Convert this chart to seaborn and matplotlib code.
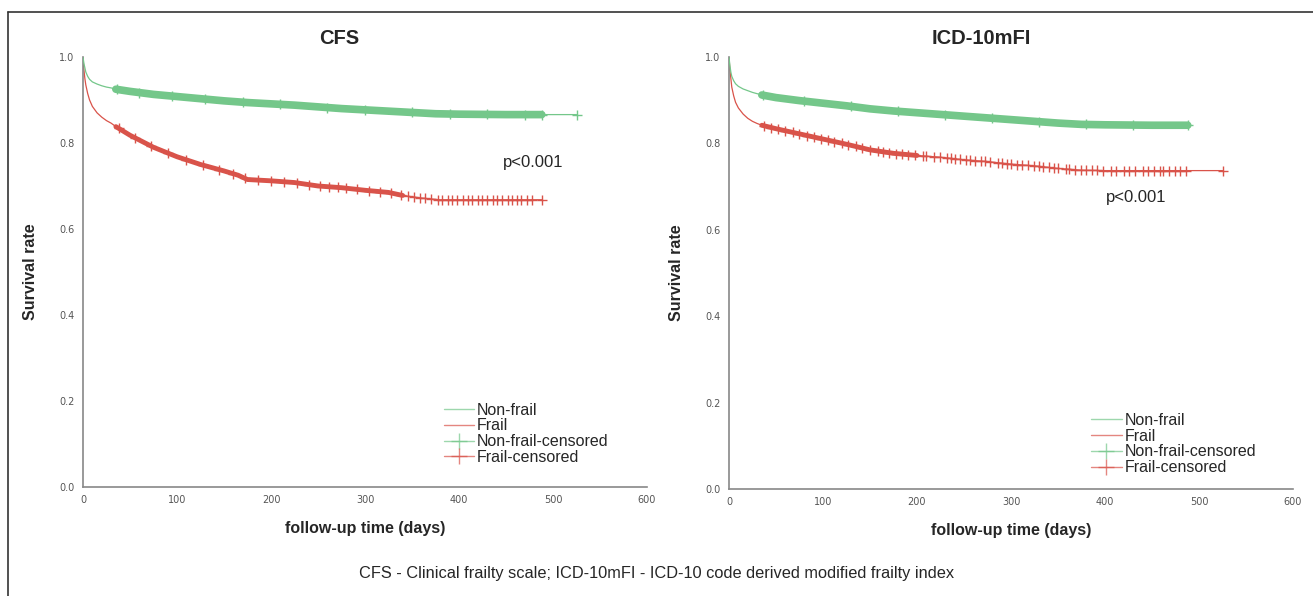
import numpy as np
import pandas as pd
import seaborn as sns
import matplotlib.pyplot as plt
from matplotlib.lines import Line2D

# ---- data ----
cfs_nonfrail_t = [0, 1, 2, 3, 5, 7, 10, 15, 20, 25, 30, 35, 50, 75, 100, 125, 150, 175, 200,
                  225, 250, 275, 300, 325, 350, 375, 400, 450, 488, 525]
cfs_nonfrail_s = [1.0, 0.985, 0.975, 0.965, 0.955, 0.948, 0.942, 0.937, 0.933, 0.930, 0.928,
                  0.925, 0.920, 0.913, 0.908, 0.903, 0.898, 0.894, 0.891, 0.888, 0.884, 0.880,
                  0.877, 0.874, 0.871, 0.868, 0.867, 0.866, 0.866, 0.866]
cfs_frail_t = [0, 1, 2, 3, 5, 7, 10, 15, 20, 25, 30, 35, 50, 75, 100, 125, 150, 165, 175, 200,
               225, 250, 275, 300, 325, 340, 360, 380, 400, 450, 488]
cfs_frail_s = [1.0, 0.97, 0.95, 0.935, 0.915, 0.90, 0.885, 0.87, 0.86, 0.852, 0.846, 0.838,
               0.818, 0.790, 0.768, 0.750, 0.735, 0.725, 0.715, 0.712, 0.708, 0.700, 0.696,
               0.690, 0.685, 0.678, 0.672, 0.668, 0.668, 0.668, 0.668]
icd_nonfrail_t = [0, 1, 2, 3, 5, 7, 10, 15, 20, 25, 30, 35, 50, 75, 100, 125, 150, 175, 200,
                  225, 250, 275, 300, 325, 350, 375, 400, 450, 488]
icd_nonfrail_s = [1.0, 0.98, 0.965, 0.955, 0.945, 0.938, 0.932, 0.926, 0.922, 0.918, 0.915,
                  0.912, 0.906, 0.899, 0.893, 0.887, 0.880, 0.875, 0.871, 0.867, 0.863, 0.859,
                  0.855, 0.851, 0.847, 0.844, 0.843, 0.842, 0.842]
icd_frail_t = [0, 1, 2, 3, 5, 7, 10, 15, 20, 25, 30, 35, 50, 75, 100, 125, 150, 175, 200, 225,
               250, 275, 300, 325, 350, 375, 400, 450, 488, 525]
icd_frail_s = [1.0, 0.97, 0.95, 0.93, 0.91, 0.895, 0.882, 0.868, 0.858, 0.851, 0.846, 0.842,
               0.834, 0.822, 0.810, 0.798, 0.785, 0.777, 0.772, 0.768, 0.762, 0.758, 0.752,
               0.748, 0.742, 0.738, 0.737, 0.737, 0.737, 0.737]

# censored observation times (dense stretches drawn as a band)
cfs_nonfrail_band = [35, 488]
cfs_frail_band = [35, 340]
icd_nonfrail_band = [35, 488]
icd_frail_band = [35, 200]
cfs_nonfrail_cens = [36, 60, 95, 130, 170, 210, 260, 300, 350, 390, 430, 470, 488, 525]
cfs_frail_cens = [38, 55, 72, 90, 110, 128, 145, 160, 172, 186, 200, 214, 228, 240, 252, 262,
                  271, 280, 292, 304, 316, 328, 338, 346, 352, 358, 364, 370, 378, 382, 388,
                  392, 398, 404, 410, 414, 420, 424, 430, 436, 440, 446, 452, 456, 462, 466,
                  472, 478, 488]
icd_nonfrail_cens = [36, 80, 130, 180, 230, 280, 330, 380, 430, 488]
icd_frail_cens = [37, 45, 52, 60, 68, 75, 83, 90, 98, 105, 112, 120, 127, 135, 142, 150, 158,
                  164, 170, 178, 184, 190, 198, 206, 210, 218, 224, 232, 236, 240, 246, 252,
                  256, 262, 268, 272, 278, 286, 290, 296, 300, 306, 312, 318, 324, 330, 334,
                  340, 346, 350, 358, 362, 368, 374, 380, 386, 392, 398, 406, 412, 420, 426,
                  432, 440, 446, 452, 458, 462, 468, 474, 480, 486, 525]

panels = [
    ("CFS", (cfs_nonfrail_t, cfs_nonfrail_s, cfs_nonfrail_band, cfs_nonfrail_cens),
     (cfs_frail_t, cfs_frail_s, cfs_frail_band, cfs_frail_cens)),
    ("ICD-10mFI", (icd_nonfrail_t, icd_nonfrail_s, icd_nonfrail_band, icd_nonfrail_cens),
     (icd_frail_t, icd_frail_s, icd_frail_band, icd_frail_cens)),
]

GREEN = "#74c78a"
RED = "#d9534a"

sns.set_style("white")
plt.rcParams['font.family'] = ['Liberation Sans', 'DejaVu Sans']

fig = plt.figure(figsize=(13.13, 5.96), dpi=100)
ax_rects = [[0.0632, 0.1829, 0.4296, 0.7215], [0.5552, 0.1795, 0.4296, 0.7249]]
title_x = [0.454, 0.447]
p_pos = [(0.745, 0.745), (0.668, 0.665)]
leg_pos = [(0.625, 0.215), (0.628, 0.195)]


def curve_value(t, s, x):
    return np.interp(x, t, s)


for i, (title, nf, fr) in enumerate(panels):
    ax = fig.add_axes(ax_rects[i])
    for (t, s, band, cens), col, z in [(nf, GREEN, 3), (fr, RED, 2)]:
        df = pd.DataFrame({"t": t, "s": s})
        sns.lineplot(data=df, x="t", y="s", color=col, lw=0.9, ax=ax, zorder=z)
        sub = df[(df.t >= band[0]) & (df.t <= band[1])]
        sns.lineplot(data=sub, x="t", y="s", color=col,
                     lw=5.5 if col == GREEN else 3.5, ax=ax, zorder=z)
        cdf = pd.DataFrame({"t": cens, "s": curve_value(t, s, cens)})
        ax.plot(cdf.t, cdf.s, ls="none", marker="+", ms=7, mew=1.0, color=col, zorder=z)

    ax.set_xlim(0, 600)
    ax.set_ylim(0, 1.0)
    ax.set_xticks([0, 100, 200, 300, 400, 500, 600])
    ax.set_yticks([0.0, 0.2, 0.4, 0.6, 0.8, 1.0])
    ax.set_yticklabels(["0.0", "0.2", "0.4", "0.6", "0.8", "1.0"])
    ax.tick_params(labelsize=7, colors="#555555", length=0, pad=6)
    for lab in ax.get_xticklabels() + ax.get_yticklabels():
        lab.set_fontfamily("DejaVu Sans")
    sns.despine(ax=ax)
    for sp in ["left", "bottom"]:
        ax.spines[sp].set_color("#888888")
        ax.spines[sp].set_linewidth(1.2)
    ax.set_title(title, fontsize=14.5, fontweight="bold", pad=9, x=title_x[i])
    ax.set_xlabel("follow-up time (days)", fontsize=11.5, fontweight="bold", labelpad=11)
    ax.set_ylabel("Survival rate", fontsize=11.5, fontweight="bold", labelpad=15)
    ax.text(p_pos[i][0], p_pos[i][1], "p<0.001", transform=ax.transAxes, fontsize=12)

    handles = [
        Line2D([], [], color=GREEN, lw=1.0, alpha=0.7),
        Line2D([], [], color=RED, lw=1.0, alpha=0.7),
        Line2D([], [], color=GREEN, lw=1.0, marker="+", ms=11, alpha=0.7),
        Line2D([], [], color=RED, lw=1.0, marker="+", ms=11, alpha=0.7),
    ]
    ax.legend(handles, ["Non-frail", "Frail", "Non-frail-censored", "Frail-censored"],
              loc="upper left", bbox_to_anchor=leg_pos[i], frameon=False, fontsize=11.5,
              handlelength=1.9, handletextpad=0.2, labelspacing=0.05, borderpad=0)

fig.text(0.5, 0.03, "CFS - Clinical frailty scale; ICD-10mFI - ICD-10 code derived modified frailty index",
         ha="center", fontsize=11.8)

# outer frame
fig.add_artist(Line2D([0.006, 0.006], [0.0, 0.98], color="#333333", lw=1.2))
fig.add_artist(Line2D([0.006, 1.0], [0.98, 0.98], color="#333333", lw=1.2))

fig.savefig("out.png", dpi=100)
